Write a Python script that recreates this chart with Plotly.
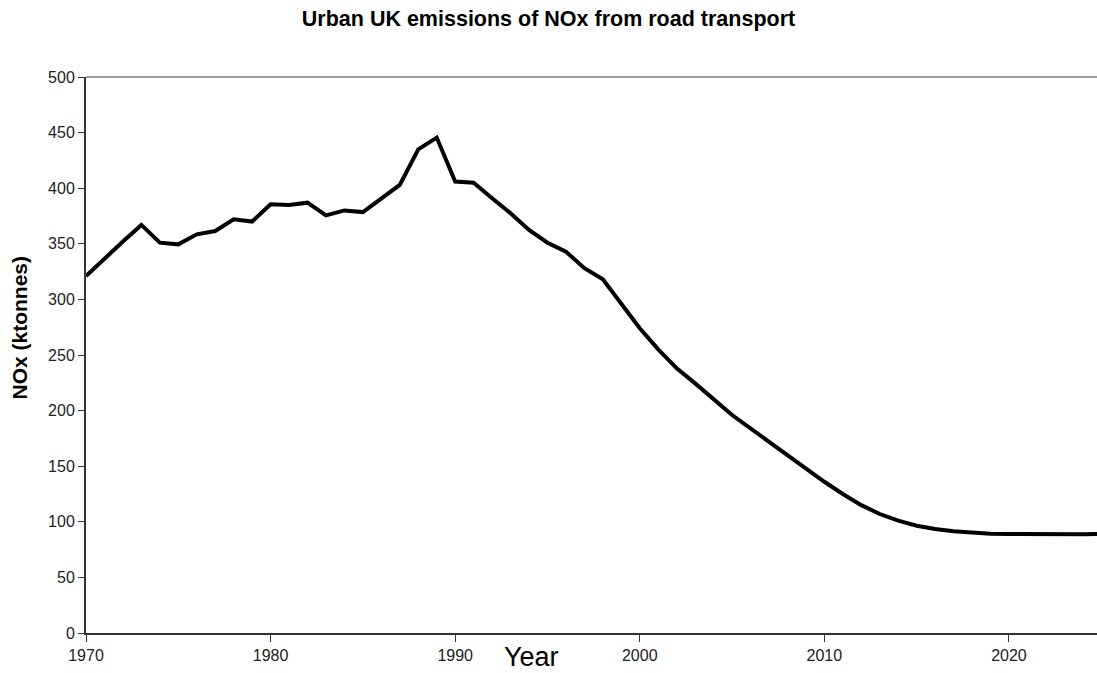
import plotly.graph_objects as go

years = list(range(1970, 2026))
nox = [
    321, 337, 352, 367, 351, 349.5, 358.5, 361.5, 372, 370,
    385.5, 385, 387, 375.5, 380, 378.5, 391, 403, 435, 445.5,
    406, 405, 391, 377.5, 362.5, 351, 343, 328, 318, 296.5,
    274, 255, 238, 224.5, 210.5, 196, 184, 172, 159, 147,
    136, 125, 115, 107, 101, 96.5, 93.5, 91.5, 90, 89.3,
    89, 88.8, 88.7, 88.7, 88.8, 89,
]
x_ticks = [1970, 1980, 1990, 2000, 2010, 2020]
y_ticks = [0, 50, 100, 150, 200, 250, 300, 350, 400, 450, 500]

FONT = "Liberation Sans, Arial, sans-serif"

fig = go.Figure()
fig.add_trace(go.Scatter(
    x=years, y=nox,
    mode="lines",
    line=dict(color="black", width=4),
    showlegend=False,
))

# grey plot-area border along the top
fig.add_shape(type="line", xref="paper", yref="y domain",
              x0=0, x1=1, y0=1, y1=1,
              line=dict(color="#999999", width=2))

fig.add_annotation(text="Year", xref="paper", yref="paper",
                   x=0.441, y=-0.043, xanchor="center", yanchor="middle",
                   showarrow=False, font=dict(family=FONT, size=27, color="black"))
fig.add_annotation(text="<b>NOx (ktonnes)</b>", xref="paper", yref="paper",
                   x=-0.066, y=0.55, xanchor="center", yanchor="middle",
                   textangle=-90, showarrow=False,
                   font=dict(family=FONT, size=21, color="black"))

fig.update_layout(
    width=1097, height=673,
    margin=dict(l=86, r=0, t=77, b=40),
    plot_bgcolor="white", paper_bgcolor="white",
    title=dict(text="<b>Urban UK emissions of NOx from road transport</b>",
               x=0.5, xanchor="center", y=0.973, yanchor="middle",
               font=dict(family=FONT, size=21.5, color="black")),
    font=dict(family=FONT, size=16, color="#222222"),
    xaxis=dict(range=[1970, 2024.77], tickvals=x_ticks, ticks="outside",
               ticklen=7, tickcolor="#333333", showgrid=False, zeroline=False,
               showline=True, linecolor="#333333", linewidth=2),
    yaxis=dict(range=[0, 500], tickvals=y_ticks, ticks="outside",
               ticklen=6, tickcolor="#333333", showgrid=False, zeroline=False,
               showline=True, linecolor="#333333", linewidth=2),
)

fig.write_html("out.html", config={"displayModeBar": False},
               post_script="document.body.style.margin='0';")
